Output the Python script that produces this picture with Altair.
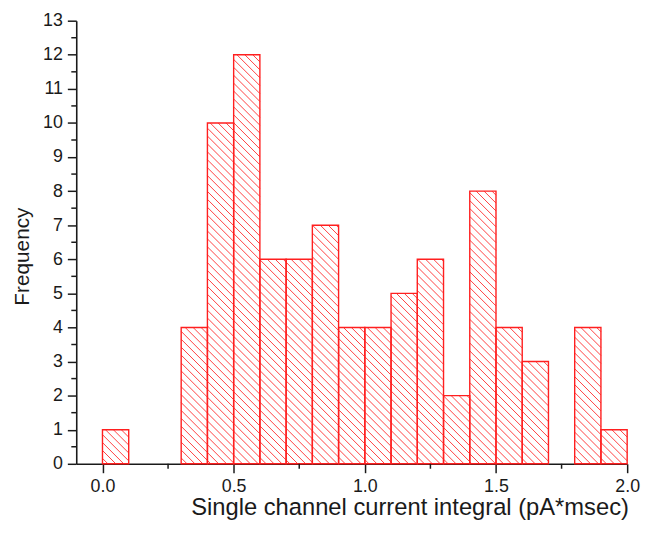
import altair as alt
import pandas as pd
import numpy as np

# Histogram data (bin start, counts), bin width 0.1
bin_starts = [0.0, 0.1, 0.2, 0.3, 0.4, 0.5, 0.6, 0.7, 0.8, 0.9,
              1.0, 1.1, 1.2, 1.3, 1.4, 1.5, 1.6, 1.7, 1.8, 1.9]
counts = [1, 0, 0, 4, 10, 12, 6, 6, 7, 4,
          4, 5, 6, 2, 8, 4, 3, 0, 4, 1]
bin_width = 0.1

x_major = [0.0, 0.5, 1.0, 1.5, 2.0]
x_minor = [0.25, 0.75, 1.25, 1.75]
y_major = list(range(0, 14))
y_minor = [v + 0.5 for v in range(0, 13)]

XMIN, XMAX = -0.1, 2.0
YMIN, YMAX = 0, 13
W, H = 557, 448
RED = "#ff1f1f"
AX = "#1a1a1a"
FONT = "Liberation Sans"

bars = pd.DataFrame({
    "start": bin_starts,
    "end": [s + bin_width for s in bin_starts],
    "count": counts,
    "zero": [0] * len(counts),
})
bars = bars[bars["count"] > 0].reset_index(drop=True)

# Hatch segments ("\\" pattern, 45 deg in screen space) clipped to each bar
kx = W / (XMAX - XMIN)
ky = H / (YMAX - YMIN)
step = 8.0
segs = []
for _, r in bars.iterrows():
    u0 = (r["start"] - XMIN) * kx
    u1 = (r["end"] - XMIN) * kx
    vt = (YMAX - r["count"]) * ky
    vb = (YMAX - 0) * ky
    kmin = int(np.floor((vt - u1) / step)) - 1
    kmax = int(np.ceil((vb - u0) / step)) + 1
    for k in range(kmin, kmax + 1):
        c = k * step
        a = max(u0, vt - c)
        b = min(u1, vb - c)
        if b - a > 0.5:
            segs.append({
                "start": a / kx + XMIN, "count": YMAX - (a + c) / ky,
                "end": b / kx + XMIN, "top": YMAX - (b + c) / ky,
            })
hatch = pd.DataFrame(segs)

xscale = alt.Scale(domain=[XMIN, XMAX], nice=False, zero=False)
yscale = alt.Scale(domain=[YMIN, YMAX], nice=False, zero=False)

common = dict(grid=False, tickSize=9, tickWidth=1.5, tickColor=AX,
              domainColor=AX, domainWidth=1.6, labelFont=FONT, labelFontSize=18,
              labelColor=AX, labelFlush=False,
              titleFont=FONT, titleFontWeight="normal", titleColor=AX)

xaxis = alt.Axis(values=x_major, format=".1f", title="Single channel current integral (pA*msec)",
                 titleX=337, titleY=51.5, titleBaseline="alphabetic", titleFontSize=24,
                 labelPadding=5, **common)
yaxis = alt.Axis(values=y_major, format="d", title="Frequency",
                 titleX=-48, titleY=238, titleBaseline="alphabetic", titleFontSize=21,
                 labelPadding=5, **common)

X = alt.X("start:Q", scale=xscale, axis=xaxis)
Y = alt.Y("count:Q", scale=yscale, axis=yaxis)

bar_layer = alt.Chart(bars).mark_rect(fillOpacity=0, stroke=RED, strokeWidth=1.4).encode(
    x=X, x2="end:Q", y=Y, y2="zero:Q",
)

hatch_layer = alt.Chart(hatch).mark_rule(stroke=RED, strokeWidth=0.85).encode(
    x=X, y=Y, x2="end:Q", y2="top:Q",
)

xminor_layer = alt.Chart(pd.DataFrame({"start": x_minor})).mark_rule(stroke=AX, strokeWidth=1.5).encode(
    x=X, y=alt.value(H), y2=alt.value(H + 5),
)
yminor_layer = alt.Chart(pd.DataFrame({"count": y_minor})).mark_rule(stroke=AX, strokeWidth=1.5).encode(
    y=Y, x=alt.value(0), x2=alt.value(-5),
)

chart = alt.layer(hatch_layer, bar_layer, xminor_layer, yminor_layer).properties(
    width=W, height=H,
    autosize=alt.AutoSizeParams(type="none"),
    padding={"left": 69, "top": 10, "right": 15, "bottom": 56},
).configure(
    background="white",
).configure_view(
    strokeOpacity=0,
)

chart.save("out.html", embed_options={"renderer": "svg", "actions": False})
